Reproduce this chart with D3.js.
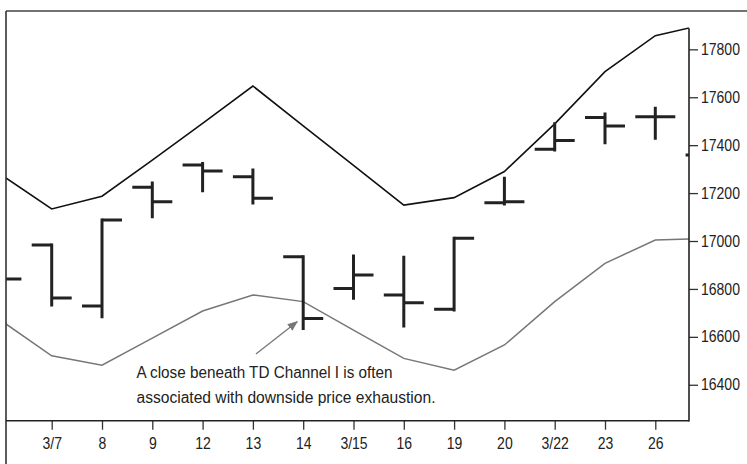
<!DOCTYPE html>
<html>
<head>
<meta charset="utf-8">
<script src="https://cdn.jsdelivr.net/npm/d3@7"></script>
<style>
  html, body { margin: 0; padding: 0; background: #ffffff; }
  svg { display: block; }
  text { font-family: "Liberation Sans", Arimo, Arial, sans-serif; fill: #222; }
</style>
</head>
<body>
<svg id="chart" width="747" height="464"></svg>
<script>
// ---- data ----
const dates = ["", "3/7", "8", "9", "12", "13", "14", "3/15", "16", "19", "20", "3/22", "23", "26", ""];
const openV  = [16900, 16983, 16729, 17224, 17317, 17268, 16934, 16802, 16775, 16715, 17160, 17383, 17516, 17519, 17359];
const highV  = [16950, 16983, 17088, 17242, 17324, 17296, 16934, 16937, 16932, 17011, 17262, 17489, 17530, 17554, 17420];
const lowV   = [16800, 16733, 16684, 17101, 17210, 17159, 16635, 16761, 16645, 16712, 17154, 17380, 17410, 17429, 17300];
const closeV = [16841, 16762, 17088, 17164, 17292, 17178, 16677, 16858, 16742, 17011, 17164, 17419, 17480, 17519, 17380];
const upperChannel = [17276, 17134, 17187, 17338, 17491, 17647, 17481, 17316, 17150, 17181, 17290, 17489, 17707, 17857, 17905];
const lowerChannel = [16667, 16521, 16482, 16595, 16708, 16775, 16747, 16628, 16510, 16461, 16566, 16747, 16907, 17004, 17010];
const yTicks = [16400, 16600, 16800, 17000, 17200, 17400, 17600, 17800];
const annotationLines = ["A close beneath TD Channel I is often", "associated with downside price exhaustion."];

// ---- layout ----
const svg = d3.select("#chart");
const plot = { left: 6, right: 689, top: 11, bottom: 420.7 };
const x = d3.scaleLinear().domain([0, 14]).range([1.4, 705.6]);
const y = d3.scaleLinear().domain([16250, 17960]).range([plot.bottom, plot.top]);
const idx = d3.range(dates.length);
const condense = 0.875; // emulate a condensed sans

function squeeze(sel, factor) {
  sel.each(function () {
    const w = this.getComputedTextLength();
    if (w > 0) d3.select(this).attr("textLength", w * factor).attr("lengthAdjust", "spacingAndGlyphs");
  });
}

svg.append("rect").attr("width", 747).attr("height", 464).attr("fill", "#fff");

svg.append("clipPath").attr("id", "clip")
  .append("rect")
  .attr("x", plot.left).attr("y", plot.top)
  .attr("width", plot.right - plot.left).attr("height", plot.bottom - plot.top);

const g = svg.append("g").attr("clip-path", "url(#clip)");

// channel lines
const line = arr => d3.line().x((d, i) => x(i)).y(d => y(d))(arr);
g.append("path").attr("d", line(lowerChannel))
  .attr("fill", "none").attr("stroke", "#777").attr("stroke-width", 1.5);
g.append("path").attr("d", line(upperChannel))
  .attr("fill", "none").attr("stroke", "#111").attr("stroke-width", 1.6);

// OHLC bars
const tickLen = 20;
const barColor = "#222";
const bars = g.append("g").attr("stroke", barColor).attr("stroke-width", 3).attr("stroke-linecap", "butt");
idx.forEach(i => {
  const cx = x(i);
  bars.append("line").attr("x1", cx).attr("x2", cx).attr("y1", y(highV[i]) - 1.5).attr("y2", y(lowV[i]) + 1.5);
  bars.append("line").attr("x1", cx - tickLen).attr("x2", cx).attr("y1", y(openV[i])).attr("y2", y(openV[i]));
  bars.append("line").attr("x1", cx).attr("x2", cx + tickLen).attr("y1", y(closeV[i])).attr("y2", y(closeV[i]));
});

// frame
svg.append("line").attr("x1", plot.left).attr("x2", 747).attr("y1", plot.top).attr("y2", plot.top)
  .attr("stroke", "#444").attr("stroke-width", 1.6);
svg.append("line").attr("x1", plot.left).attr("x2", plot.left).attr("y1", plot.top).attr("y2", 464)
  .attr("stroke", "#333").attr("stroke-width", 1.6);

// x axis
const xAxis = svg.append("g").attr("transform", `translate(0,${plot.bottom})`)
  .call(d3.axisBottom(x).tickValues(d3.range(1, 14)).tickFormat(i => dates[i]).tickSize(9).tickSizeOuter(0));
xAxis.select(".domain").remove();
xAxis.append("line").attr("x1", plot.left).attr("x2", plot.right).attr("stroke", "#222").attr("stroke-width", 1.6);
xAxis.selectAll(".tick line").attr("stroke", "#333").attr("stroke-width", 1.3);
xAxis.selectAll(".tick text").attr("font-size", 16).attr("dy", null).attr("y", 28)
  .attr("font-family", null).attr("fill", "#222").call(squeeze, condense);

// y axis (right)
const yAxis = svg.append("g").attr("transform", `translate(${plot.right},0)`)
  .call(d3.axisRight(y).tickValues(yTicks).tickFormat(d3.format("d")).tickSize(9).tickPadding(3));
yAxis.select(".domain").remove();
yAxis.append("line").attr("y1", y(upperChannel[14]) + 4).attr("y2", plot.bottom + 0.8).attr("stroke", "#222").attr("stroke-width", 1.6);
yAxis.selectAll(".tick line").attr("stroke", "#333").attr("stroke-width", 1.3);
yAxis.selectAll(".tick text").attr("font-size", 16).attr("font-family", null).attr("fill", "#222").call(squeeze, condense);

// annotation
const ann = svg.append("g");
ann.append("defs").append("marker").attr("id", "arrow")
  .attr("viewBox", "0 0 10 10").attr("refX", 9).attr("refY", 5)
  .attr("markerWidth", 8).attr("markerHeight", 8).attr("orient", "auto")
  .append("path").attr("d", "M0,1 L10,5 L0,9 Z").attr("fill", "#777");
ann.append("line")
  .attr("x1", x(5.06)).attr("y1", y(16528))
  .attr("x2", x(5.88)).attr("y2", y(16663))
  .attr("stroke", "#777").attr("stroke-width", 1.3).attr("marker-end", "url(#arrow)");
const noteWidths = [256, 299];
ann.selectAll("text.note").data(annotationLines).join("text")
  .attr("class", "note")
  .attr("x", 136.5)
  .attr("y", (d, i) => 378 + i * 24.5)
  .attr("font-size", 16)
  .attr("textLength", (d, i) => noteWidths[i])
  .attr("lengthAdjust", "spacingAndGlyphs")
  .text(d => d);
</script>
</body>
</html>
